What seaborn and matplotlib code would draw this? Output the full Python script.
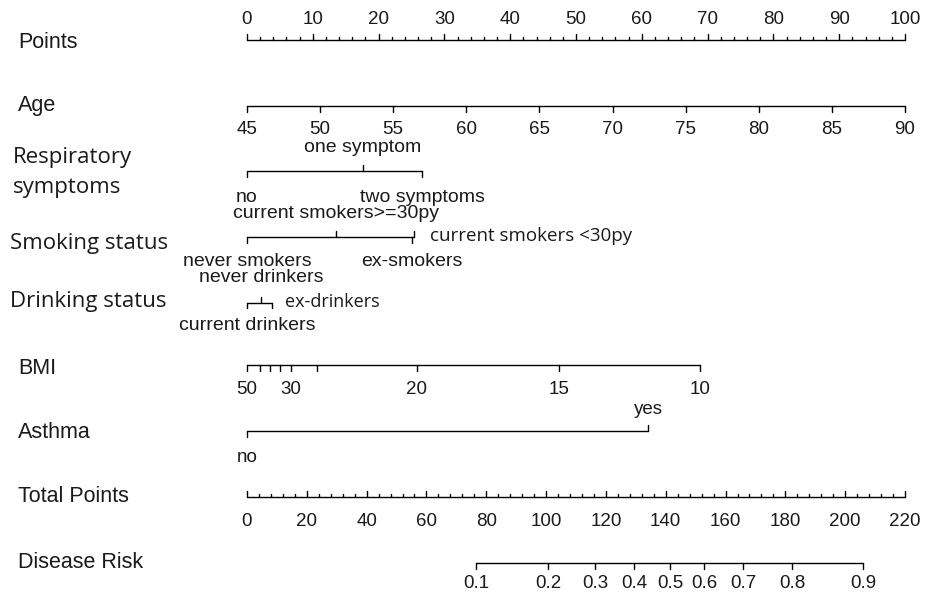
import numpy as np
import pandas as pd
import matplotlib
matplotlib.use('Agg')
import matplotlib.pyplot as plt
import seaborn as sns

# Values (positions in "Points" units, 0-100)
points_labels = [0, 10, 20, 30, 40, 50, 60, 70, 80, 90, 100]

age_labels = [45, 50, 55, 60, 65, 70, 75, 80, 85, 90]
age_points = [0, 11.1, 22.2, 33.3, 44.4, 55.6, 66.7, 77.8, 88.9, 100]

resp_labels = ['no', 'one symptom', 'two symptoms']
resp_points = [0, 17.6, 26.6]

smoke_labels = ['never smokers', 'current smokers>=30py', 'ex-smokers', 'current smokers <30py']
smoke_points = [0, 13.5, 25.1, 25.4]

drink_labels = ['current drinkers', 'never drinkers', 'ex-drinkers']
drink_points = [0, 2.1, 3.8]

bmi_values = [50, 45, 40, 35, 30, 25, 20, 15, 10]
bmi_points = [0, 2.0, 3.5, 5.0, 6.7, 10.6, 25.8, 47.4, 68.8]
bmi_shown = [50, 30, 20, 15, 10]

asthma_labels = ['no', 'yes']
asthma_points = [0, 61.0]

total_labels = [0, 20, 40, 60, 80, 100, 120, 140, 160, 180, 200, 220]
total_max = 220

risk_labels = ['0.1', '0.2', '0.3', '0.4', '0.5', '0.6', '0.7', '0.8', '0.9']
risk_total = [76.6, 100.6, 116.3, 129.4, 141.4, 152.8, 165.8, 182.2, 205.9]

# figure in pixel-like layout: x in points units, y in pixels from top
sns.set_style("white")
fig = plt.figure(figsize=(9.25, 5.97), dpi=100)
ax = fig.add_axes([0, 0, 1, 1])
px = 6.58  # pixels per point
ax.set_xlim(-247 / px, (925 - 247) / px)
ax.set_ylim(597, 0)
ax.axis('off')

arial = ['Liberation Sans', 'DejaVu Sans']
other = ['Open Sans', 'DejaVu Sans']
row_fs = 15.5
tick_fs = 13.5
cat_fs = 14
ink = '#1a1a1a'

segs = []


def seg(x0, y0, x1, y1):
    k = len(segs)
    segs.append((k, x0, y0))
    segs.append((k, x1, y1))


def axis_line(x0, x1, y):
    seg(x0, y, x1, y)


def tick(x, y, length):
    # positive length goes down the page, negative goes up
    seg(x, y, x, y + length)


def label(x, y, txt, ha='center', fam=arial, fs=tick_fs):
    ax.text(x, y, txt, ha=ha, va='center', fontsize=fs, family=fam, color=ink)


def row_label(txt, y, x=18, fam=arial, fs=row_fs):
    label(-247 / px + x / px, y, txt, ha='left', fam=fam, fs=fs)


# Points
y = 40
axis_line(0, 100, y)
for v in np.arange(0, 101, 2):
    tick(v, y, -6 if v % 10 == 0 else -3)
for v in points_labels:
    label(v, 19, str(v))
row_label('Points', 42)

# Age
y = 106
axis_line(age_points[0], age_points[-1], y)
for v, lab in zip(age_points, age_labels):
    tick(v, y, 6)
    label(v, 130, str(lab))
row_label('Age', 106)

# Respiratory symptoms
y = 171
axis_line(resp_points[0], resp_points[-1], y)
tick(resp_points[0], y, 6)
tick(resp_points[1], y, -6)
tick(resp_points[2], y, 6)
label(resp_points[0], 197, resp_labels[0], fs=cat_fs)
label(resp_points[1], 148, resp_labels[1], fs=cat_fs)
label(resp_points[2], 197, resp_labels[2], fs=cat_fs)
row_label('Respiratory', 157, x=13, fam=other, fs=16)
row_label('symptoms', 188, x=13, fam=other, fs=16)

# Smoking status
y = 237
axis_line(smoke_points[0], smoke_points[-1], y)
tick(smoke_points[0], y, 6)
tick(smoke_points[1], y, -6)
tick(smoke_points[2], y, 6)
tick(smoke_points[3], y, -6)
label(smoke_points[0], 262, smoke_labels[0], fs=cat_fs)
label(smoke_points[1], 214, smoke_labels[1], fs=cat_fs)
label(smoke_points[2], 262, smoke_labels[2], fs=cat_fs)
label(smoke_points[3] + 16 / px, 236, smoke_labels[3], ha='left', fam=other, fs=13.5)
row_label('Smoking status', 243, x=10, fam=other, fs=16)

# Drinking status
y = 303
axis_line(drink_points[0], drink_points[-1], y)
tick(drink_points[0], y, 5)
tick(drink_points[1], y, -6)
tick(drink_points[2], y, 5)
label(drink_points[0], 325, drink_labels[0], fs=cat_fs)
label(drink_points[1], 278, drink_labels[1], fs=cat_fs)
label(drink_points[2] + 13 / px, 302, drink_labels[2], ha='left', fam=other, fs=13)
row_label('Drinking status', 302, x=10, fam=other, fs=16)

# BMI
y = 365
axis_line(bmi_points[0], bmi_points[-1], y)
for v, b in zip(bmi_points, bmi_values):
    tick(v, y, 6)
    if b in bmi_shown:
        label(v, 390, str(b))
row_label('BMI', 368)

# Asthma
y = 431
axis_line(asthma_points[0], asthma_points[-1], y)
tick(asthma_points[0], y, 6)
tick(asthma_points[1], y, -6)
label(asthma_points[0], 457, asthma_labels[0])
label(asthma_points[1], 409, asthma_labels[1])
row_label('Asthma', 433)

# Total Points
y = 497
scale = 100 / total_max
axis_line(0, total_labels[-1] * scale, y)
for v in np.arange(0, total_max + 1, 4):
    tick(v * scale, y, -6 if v % 20 == 0 else -3)
for v in total_labels:
    label(v * scale, 521, str(v))
row_label('Total Points', 497)

# Disease Risk
y = 563
axis_line(risk_total[0] * scale, risk_total[-1] * scale, y)
for v, lab in zip(risk_total, risk_labels):
    tick(v * scale, y, 6)
    label(v * scale, 584, lab)
row_label('Disease Risk', 562)

df = pd.DataFrame(segs, columns=['seg', 'x', 'y'])
sns.lineplot(data=df, x='x', y='y', units='seg', estimator=None, sort=False,
             color='black', linewidth=1.0, legend=False, ax=ax)
ax.set_xlim(-247 / px, (925 - 247) / px)
ax.set_ylim(597, 0)
ax.axis('off')

fig.savefig('out.png', dpi=100)
plt.close(fig)
